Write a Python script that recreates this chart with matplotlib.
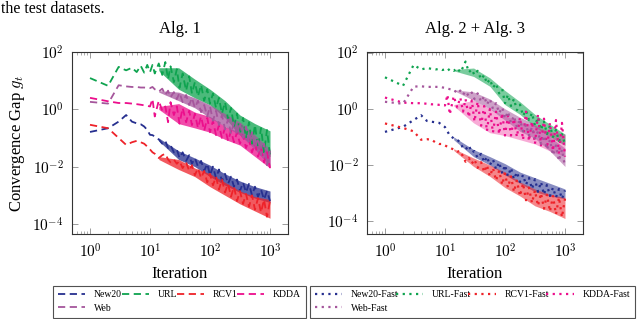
import numpy as np
import matplotlib
matplotlib.use("Agg")
import matplotlib.pyplot as plt
from matplotlib.ticker import FuncFormatter, LogLocator, NullFormatter

plt.rcParams['font.family'] = ['Liberation Serif', 'DejaVu Serif']
plt.rcParams['mathtext.fontset'] = 'cm'

# ---------- data (log10 of the convergence gap) ----------
iters = [1, 2, 3, 4, 5, 6, 7, 8, 9, 10, 11, 12, 14, 16, 18, 20, 22, 25, 28, 31,
         35, 40, 45, 50, 56, 63, 71, 80, 90, 100, 112, 126, 141, 158, 178, 200,
         224, 251, 282, 316, 355, 398, 447, 501, 562, 631, 708, 794, 891, 1000]

# Alg. 1
new20 = [-0.79, -0.66, -0.43, -0.20, -0.43, -0.49, -0.52, -0.60, -0.72, -0.89,
         -0.90, -0.95, -1.05, -1.20, -1.10, -1.35, -1.25, -1.50, -1.40, -1.70,
         -1.50, -1.80, -1.60, -1.90, -1.70, -2.00, -1.80, -2.15, -1.90, -2.30,
         -2.00, -2.40, -2.10, -2.50, -2.25, -2.60, -2.35, -2.70, -2.45, -2.85,
         -2.55, -2.90, -2.60, -3.00, -2.70, -3.05, -2.80, -3.15, -2.85, -3.20]
url = [1.09, 0.82, 1.48, 1.36, 1.45, 1.30, 1.52, 1.28, 1.55, 1.30,
       1.55, 1.25, 1.60, 1.20, 1.65, 1.05, 1.50, 0.95, 1.40, 0.75,
       1.25, 0.65, 1.15, 0.55, 0.95, 0.45, 0.85, 0.30, 0.70, 0.20,
       0.55, 0.05, 0.40, -0.15, 0.25, -0.35, 0.05, -0.60, -0.15, -0.85,
       -0.30, -1.00, -0.45, -1.20, -0.55, -1.35, -0.65, -1.50, -0.72, -1.60]
rcv1 = [-0.54, -0.66, -1.00, -1.24, -1.15, -1.10, -1.15, -1.20, -1.30, -1.40,
        -1.50, -1.55, -1.70, -1.60, -1.55, -1.75, -1.85, -1.75, -1.90, -1.80,
        -2.05, -1.85, -2.15, -1.95, -2.30, -2.05, -2.40, -2.15, -2.55, -2.25,
        -2.65, -2.35, -2.80, -2.45, -2.90, -2.60, -3.05, -2.70, -3.20, -2.85,
        -3.30, -2.95, -3.40, -3.00, -3.50, -3.10, -3.60, -3.15, -3.75, -3.20]
kdda = [0.40, 0.28, 0.22, 0.22, 0.20, 0.18, 0.16, 0.14, 0.12, 0.10,
        0.36, -0.25, 0.30, -0.05, 0.10, -0.45, 0.25, -0.20, 0.10, -0.50,
        0.05, -0.45, -0.05, -0.55, -0.15, -0.65, -0.25, -0.75, -0.30, -0.80,
        -0.40, -0.90, -0.55, -1.00, -0.65, -1.10, -0.75, -1.15, -0.80, -1.20,
        -0.90, -1.35, -1.05, -1.50, -1.20, -1.65, -1.35, -1.85, -1.50, -2.05]
web = [0.26, 0.20, 0.84, 0.80, 0.78, 0.78, 0.76, 0.76, 0.75, 0.74,
       0.78, 0.70, 0.62, 0.72, 0.50, 0.65, 0.42, 0.60, 0.35, 0.58,
       0.25, 0.50, 0.15, 0.40, 0.05, 0.30, -0.10, 0.15, -0.25, 0.10,
       -0.40, -0.05, -0.55, -0.20, -0.70, -0.35, -0.85, -0.45, -0.90, -0.45,
       -1.00, -0.60, -1.15, -0.80, -1.35, -1.00, -1.60, -1.20, -1.95, -1.45]

# Alg. 2 + Alg. 3
new20_fast = [-0.82, -0.64, -0.40, -0.23, -0.43, -0.46, -0.48, -0.50, -0.58, -0.65,
              -0.80, -0.95, -1.05, -1.10, -1.20, -1.40, -1.45, -1.30, -1.55, -1.50,
              -1.75, -1.60, -1.90, -1.70, -2.00, -1.80, -2.15, -1.90, -2.30, -2.00,
              -2.40, -2.10, -2.50, -2.25, -2.60, -2.35, -2.70, -2.45, -2.85, -2.50,
              -2.95, -2.60, -3.05, -2.70, -3.10, -2.80, -3.15, -2.85, -3.20, -2.90]
url_fast = [1.12, 0.82, 1.56, 1.40, 1.45, 1.42, 1.40, 1.42, 1.38, 1.40,
            1.35, 1.42, 1.35, 1.45, 1.30, 1.48, 1.68, 1.30, 1.40, 1.20,
            1.35, 1.05, 1.20, 0.90, 1.05, 0.75, 0.90, 0.55, 0.70, 0.20,
            0.50, 0.10, 0.35, -0.05, 0.15, -0.25, -0.05, -0.40, -0.15, -0.60,
            -0.30, -0.75, -0.45, -0.90, -0.60, -1.00, -0.75, -1.15, -0.90, -1.25]
rcv1_fast = [-0.52, -0.68, -0.80, -1.10, -1.08, -1.10, -1.20, -1.25, -1.25, -1.30,
             -1.35, -1.38, -1.45, -1.52, -1.50, -1.70, -1.88, -1.75, -1.95, -1.80,
             -2.10, -1.90, -2.25, -2.00, -2.40, -2.10, -2.55, -2.20, -2.70, -2.30,
             -2.80, -2.40, -2.95, -2.55, -3.10, -2.65, -3.25, -2.80, -3.35, -2.90,
             -3.45, -3.00, -3.55, -3.05, -3.65, -3.10, -3.75, -3.15, -3.85, -3.20]
kdda_fast = [0.40, 0.22, 0.20, 0.20, 0.18, 0.16, 0.16, 0.14, 0.14, 0.12,
             0.50, -0.20, 0.45, 0.05, 0.40, -0.10, 0.35, -0.30, 0.30, -0.45,
             0.25, -0.60, 0.10, -0.80, 0.00, -0.85, -0.10, -0.90, -0.15, -0.95,
             -0.25, -0.95, -0.35, -1.00, -0.30, -1.10, -0.10, -1.15, -0.45, -1.25,
             -0.20, -1.30, -0.35, -1.40, -0.50, -1.50, -0.40, -1.60, -0.50, -1.70]
web_fast = [0.25, 0.18, 0.79, 0.80, 0.78, 0.78, 0.78, 0.78, 0.76, 0.75,
            0.72, 0.70, 0.68, 0.55, 0.65, 0.50, 0.62, 0.45, 0.58, 0.35,
            0.55, 0.25, 0.45, 0.15, 0.35, 0.00, 0.20, -0.15, 0.05, -0.35,
            -0.10, -0.50, -0.25, -0.65, -0.40, -0.80, -0.55, -0.95, -0.65, -1.05,
            -0.80, -1.25, -0.95, -1.45, -1.10, -1.65, -1.30, -1.85, -1.45, -2.05]

# noisy tail: upper / lower edge of each dense band (log10)
band_iters = [14, 30, 56, 100, 178, 316, 562, 1000]
band_hi = {
    'new20': [-1.00, -1.45, -1.70, -1.95, -2.25, -2.50, -2.70, -2.85],
    'url':   [1.45, 1.45, 1.05, 0.70, 0.30, -0.20, -0.50, -0.75],
    'rcv1':  [-1.65, -1.75, -2.05, -2.25, -2.55, -2.85, -3.05, -3.15],
    'kdda':  [0.10, 0.20, -0.10, -0.25, -0.60, -0.80, -1.15, -1.50],
    'web':   [0.65, 0.60, 0.40, 0.15, -0.15, -0.45, -0.90, -1.40],
    'new20_fast': [-1.00, -1.45, -1.70, -1.95, -2.25, -2.45, -2.65, -2.85],
    'url_fast':   [1.40, 1.45, 1.10, 0.65, 0.25, -0.20, -0.55, -0.90],
    'rcv1_fast':  [-1.42, -1.75, -2.00, -2.25, -2.60, -2.85, -3.05, -3.15],
    'kdda_fast':  [0.15, 0.30, 0.00, -0.25, -0.45, -0.60, -0.80, -0.90],
    'web_fast':   [0.68, 0.60, 0.35, 0.00, -0.30, -0.55, -1.00, -1.40],
}
band_lo = {
    'new20': [-1.10, -1.75, -2.00, -2.35, -2.65, -2.90, -3.10, -3.25],
    'url':   [1.35, 0.70, 0.40, 0.15, -0.30, -0.90, -1.30, -1.65],
    'rcv1':  [-1.75, -2.10, -2.35, -2.70, -3.00, -3.30, -3.55, -3.80],
    'kdda':  [0.00, -0.50, -0.65, -0.80, -1.05, -1.25, -1.65, -2.05],
    'web':   [0.60, 0.30, 0.05, -0.30, -0.60, -0.90, -1.40, -2.00],
    'new20_fast': [-1.10, -1.70, -2.00, -2.35, -2.65, -2.95, -3.10, -3.20],
    'url_fast':   [1.35, 1.15, 0.80, 0.15, -0.20, -0.65, -1.00, -1.30],
    'rcv1_fast':  [-1.48, -2.05, -2.40, -2.80, -3.10, -3.45, -3.65, -3.90],
    'kdda_fast':  [0.10, -0.50, -0.85, -0.95, -1.10, -1.25, -1.50, -1.70],
    'web_fast':   [0.65, 0.30, 0.00, -0.40, -0.80, -1.05, -1.50, -2.05],
}

names = ['New20', 'URL', 'RCV1', 'KDDA', 'Web']
keys = ['new20', 'url', 'rcv1', 'kdda', 'web']
colors = ['#262f8f', '#0ea34f', '#ee2229', '#ec0e8c', '#a5569c']

left_series = [new20, url, rcv1, kdda, web]
right_series = [new20_fast, url_fast, rcv1_fast, kdda_fast, web_fast]


def decade_label(v, pos):
    return r'$10^{%d}$' % int(round(np.log10(v)))


def style_axes(ax, ylim):
    ax.set_xscale('log')
    ax.set_yscale('log')
    ax.set_xlim(10 ** -0.3, 10 ** 3.3)
    ax.set_ylim(*ylim)
    ax.xaxis.set_major_locator(LogLocator(base=10, numticks=10))
    ax.xaxis.set_minor_locator(LogLocator(base=10, subs=np.arange(2, 10), numticks=20))
    ax.xaxis.set_minor_formatter(NullFormatter())
    ax.xaxis.set_major_formatter(FuncFormatter(decade_label))
    ax.set_yticks([1e-4, 1e-2, 1e0, 1e2])
    ax.yaxis.set_minor_locator(plt.NullLocator())
    ax.yaxis.set_major_formatter(FuncFormatter(decade_label))
    ax.tick_params(which='both', direction='in', top=True, right=True,
                   color='0.55', labelsize=11)
    ax.tick_params(which='major', length=4, width=0.6, pad=6)
    ax.tick_params(which='minor', length=2.2, width=0.5)
    for s in ax.spines.values():
        s.set_linewidth(0.8)
        s.set_color('0.2')
    ax.set_xlabel('Iteration', fontsize=12, labelpad=4)


fig = plt.figure(figsize=(6.4, 3.19), dpi=100)
ax1 = fig.add_axes([0.1125, 0.2665, 0.3375, 0.5705])
ax2 = fig.add_axes([0.5734, 0.2665, 0.3375, 0.5705])

h1 = []
for vals, name, key, c in zip(left_series, names, keys, colors):
    ax1.fill_between(band_iters, 10 ** np.array(band_lo[key]),
                     10 ** np.array(band_hi[key]), color=c, alpha=0.75, lw=0)
    ln, = ax1.plot(iters, 10 ** np.array(vals), color=c, lw=1.3,
                   dashes=(4, 2.5), label=name)
    h1.append(ln)

h2 = []
for vals, name, key, c in zip(right_series, names, keys, colors):
    k = key + '_fast'
    ax2.fill_between(band_iters, 10 ** np.array(band_lo[k]),
                     10 ** np.array(band_hi[k]), color=c,
                     alpha=0.35 if key == 'kdda' else 0.55, lw=0)
    ln, = ax2.plot(iters, 10 ** np.array(vals), color=c, lw=1.6,
                   dashes=(1, 2.0), label=name + '-Fast')
    h2.append(ln)

style_axes(ax1, (10 ** -4.35, 10 ** 2.0))
style_axes(ax2, (10 ** -4.45, 10 ** 2.02))

ax1.set_ylabel('Convergence Gap $g_t$', fontsize=12, labelpad=4)
ax1.set_title('Alg. 1', fontsize=12, pad=14)
ax2.set_title('Alg. 2 + Alg. 3', fontsize=12, pad=14)

# row-major order for a 4-column legend
order = [0, 4, 1, 2, 3]
leg_kw = dict(loc='lower left', ncol=4, mode='expand', fontsize=7,
              frameon=True, fancybox=False, edgecolor='0.15', borderaxespad=0,
              handlelength=2.8, handletextpad=0.9, columnspacing=0.6,
              labelspacing=0.45, borderpad=0.5)
lg1 = fig.legend([h1[i] for i in order], [names[i] for i in order],
                 bbox_to_anchor=(0.083, 0.004, 0.395, 0.11), **leg_kw)
lg2 = fig.legend([h2[i] for i in order], [names[i] + '-Fast' for i in order],
                 bbox_to_anchor=(0.484, 0.004, 0.508, 0.11), **leg_kw)
for lg in (lg1, lg2):
    lg.get_frame().set_linewidth(0.8)

fig.text(0.002, 0.972, 'the test datasets.', fontsize=11.5, va='center', ha='left')

fig.savefig('out.png', dpi=100)
